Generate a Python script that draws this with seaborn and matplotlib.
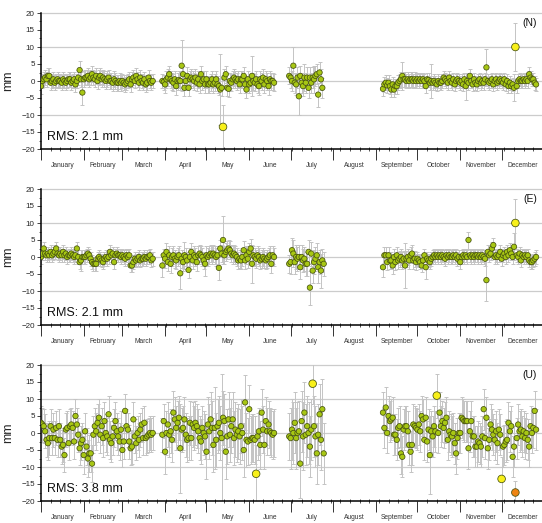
import numpy as np
import pandas as pd
import matplotlib
matplotlib.use("Agg")
import matplotlib.pyplot as plt
import seaborn as sns
from matplotlib.transforms import blended_transform_factory
from matplotlib.ticker import MultipleLocator, FixedLocator, NullFormatter

sns.set_style("white")
plt.rcParams['font.family'] = ['Liberation Sans', 'DejaVu Sans']

MONTHS = ["January", "February", "March", "April", "May", "June", "July",
          "August", "September", "October", "November", "December"]
MONTH_START = [0, 31, 59, 90, 120, 151, 181, 212, 243, 273, 304, 334, 365]
SEGMENT_START = [0, 88, 180, 248]
PANEL_LABELS = ["(N)", "(E)", "(U)"]
RMS_TEXT = ["RMS: 2.1 mm", "RMS: 2.1 mm", "RMS: 3.8 mm"]

# ---------------- North ----------------
N_JAN = [-1.5, 0, 0.5, 1, 0.5, 1.5, 1.5, -0.5, 0, 0.5, -0.5, 0, 0.5, 0, 0, -0.5, 0.5, 0, -0.5, 0, 0.5, 0.5, -0.5, 0, 0.5, -1, 0, 1, 3.2, 0.5, -3.4]
N_FEB = [0.5, 1, 1, 1.5, 0.5, 1, 2, 1, 0.5, 1.5, 0, 1, 1.5, 0.5, 1, 0.5, 0, 0.5, 1, 0, 0, -0.5, 0.5, 0, -0.5, -0.5, 0, -0.5]
N_MAR = [0, -0.5, -1, -0.5, 0, 0.5, -1, 0.5, 1, 0, 1.5, 0.5, -0.5, 1, 0, -0.5, 0.5, -1, -0.5, 1, 0, -0.5, 0]
N_APR = [0, -0.3, -1, 0.5, 1, 2, 0.5, 0, -0.5, 0.5, -1.5, 0, 0.3, 0, 4.5, 2, -2, 0, 1.5, -2, 0.5, 1, 0.5, 0, 1, -0.5, 0.5, -1, 2, 0, 0.5, -1]
N_MAY = [0.5, -1, -1, -0.5, 0.5, -1, -0.5, 0.5, -1, -1.5, -2.5, -2, -13.5, 1, 2, -2, -2.3, 0, -0.5, 0.5, 1, 0.5, 0, 0.5, -1, 0.5, 0.5, 1.5, -1, -2.5, 0.5]
N_JUN = [-1, -0.5, 1.5, 0, -0.5, 0.5, -1, -1.5, 0.5, 0, 1, -1, 0.5, 0, -1.5, 0.5, 0, 0, -0.5]
N_JUL = [1.5, 1, 0, 4.5, -0.5, -1, 1, -4.5, 1.5, -0.5, -1.5, 1, -0.5, 1, -2, 1, -0.5, 1, 0.5, 1.5, 2, -4, 2.5, 0.5, -2]
N_SEP = [-2.3, -1, -0.5, -1.3, -0.5, -1.5, -2.5, -1, -2.5, -1.5, -1.5, -0.5, 0, 0.5, 1.5, 0.5, 0.5, 0, 0.5, 0, 0.5, 0.5, 0, 0.5, 0]
N_OCT = [0.5, 0, 0.5, 0, 0.5, 0, -1.5, 0.5, 0.3, -0.5, 0, -0.5, 0, -0.5, -1, 0, -0.5, -0.5, 0, 1, 0.5, 0, -0.5, 1, 0, -0.5, 0.5, -1, 0, 0.5, 0]
N_NOV = [-0.5, 0, -1, 0.5, -1.5, 0, -0.5, 1.5, 0, -1, 0.5, -0.5, -1, 0, 0.5, -0.5, 0, -0.5, 0.5, 4, 0, -0.5, 0, 0.5, -1, 0, 0.5, -0.5, 0, 0.5]
N_DEC = [0, -0.5, 0.5, -1, 0, -1.5, -0.5, -1.5, -1, -2, 10, -1.5, 0, 0.5, 0, 0, 0.5, 0, 0.5, 0, 2, 1, 0.5, 0.5, -0.5, -1]
N_ERR_MONTH = [2.2, 2.3, 2.2, 2.5, 2.5, 2.5, 3.0, 0, 2.2, 2.0, 2.0, 2.0]
N_ERR_EXTRA = {28: 2.8, 30: 3.8, 102: 7.5, 130: 10.5, 132: 6.5, 153: 6, 183: 5.5,
               187: 5.5, 191: 4, 198: 4, 201: 3.5, 262: 4, 283: 5, 308: 4,
               323: 5.5, 343: 4, 344: 7}

# ---------------- East ----------------
E_JAN = [0, 1, 2.5, 1, 0.5, 1, 0.5, 1.5, 0.5, 1, 1.5, 2.5, 1, 0.5, 1, 0.5, 1.5, 0.5, 1, 0, 0.5, 0.5, 1, 0.5, 0, 0.5, 2.5, 0, -1.5, -1, 0]
E_FEB = [0, 0, 0.5, 1, 0.5, -0.5, -1.5, -2, -2, -2, -0.5, 0, -0.5, -1, -1.5, -0.5, 0, -0.5, 0, 1.5, 0.5, 1, -1.5, 0.5, 1, 0.5, 0.5, 0]
E_MAR = [0.5, 0, -0.5, 0.5, 0, 0.5, -2.5, -2.5, -1.5, -0.5, -1, -0.5, 0, -1, -0.5, -0.5, 0, -0.5, 0, 0, 0.5, -1, -0.5]
E_APR = [-2.5, 0.5, -0.5, 1.5, -1.5, 0.5, -2, 0, 0.5, -0.5, -1, 0, 0.5, -4.8, -0.5, -1.5, 0.5, 0, -1, -3.8, 0, 1.5, -1, 0.5, 0, -1.5, 0.5, 1, 0.5, 0, -1, -2]
E_MAY = [0.5, 0, 0.5, 1, 0.5, 1, 0.5, 0, 0.5, -3.2, 2.5, 1, 5, 0.5, 1.5, 2, 2.5, 2, 1, 0.5, 1, 0.5, 0, -1, -0.5, -1, 0, 2, -1, 0.5, -0.5]
E_JUN = [1.5, 2.5, -2, 0.5, 0, -0.5, 0.5, 0, -1, -0.5, 0, -0.5, -1, -0.5, 0, 0.5, -2, 0.5, 0]
E_JUL = [-2, -1.5, 2, 1, -1.5, 0, -0.5, 0, -3, 0, -1, -0.5, -2, -2, 1.5, -9, 1, -4, -1.5, -0.5, 0.5, -3, -1.5, -4, -1, -2]
E_SEP = [-3, 0.5, 0.5, -1.5, 0.5, -1, -1, -2.5, 0, -1.5, 0.5, -1, -0.5, 0, -1, -0.5, -2.5, -0.5, 0, -1, 0.5, 1, -1, -0.5, -1.5]
E_OCT = [-0.5, -1, -1.5, -2.5, -1, 0.5, -3, -0.5, -1, -1.5, -0.5, 0, 0.5, 0, 0.5, 0, 0.5, 0, 0.5, 0, -0.5, 0.5, 0, 0.5, 0, 0, 0.5, 0, 0.5, -0.5, 0]
E_NOV = [-1.5, 0, 0.5, 0, 0.5, 0, 5, 0.5, 0, 0.5, 0, 0.5, 0.5, 0, 0.5, 0, 0.5, 0, -0.5, -6.8, 1.5, 0.5, 1, 2.5, 3.5, 0, 0.5, 0, 0.5, 1.5]
E_DEC = [-0.5, 0.5, 1, 0, 1.5, 0.5, 2, 1, 0, 3, 10, 0.5, 0, 1, -1, 0.5, 0, 0.5, 0, 0.5, -1, -1.5, -1.5, -1, -0.5, 0]
E_ERR_MONTH = [2.0, 2.0, 2.0, 2.6, 2.6, 2.6, 3.5, 0, 2.4, 2.0, 2.0, 2.0]
E_ERR_EXTRA = {29: 3, 88: 3.5, 101: 4.5, 104: 4, 107: 2.5, 119: 3.5, 129: 3.5,
               132: 7, 152: 2.8, 153: 5.5, 183: 4, 188: 3.5, 195: 5, 197: 3.5,
               201: 4.5, 203: 5, 248: 3, 264: 6.5, 279: 3.5, 310: 2.5,
               323: 6, 343: 4, 344: 7}

# ---------------- Up ----------------
U_JAN = [3, 2.5, 2, 0.5, -2, -3, -1.5, 2, -1.5, 1, -1.5, 1.5, -2, 2, -2, -4, -3.5, -6.5, 1, 1.5, -3, 2, 2.5, 1.5, -2.5, 5, 2.5, -0.5, -4.5, -3, -2]
U_FEB = [-6.5, 0.5, -4, -7.5, -6, -6, -9, -0.5, 2, 0.5, 3, 4.5, -0.5, 2, -1.5, 3.5, 0, -1, 5.5, -2, -3, -1, 1.5, 3.5, 0.5, -1, -2.5, 1]
U_MAR = [-5, -2.5, 6.5, 2, 1, -2.5, -4.5, -4, 4, -1, -3, 0, -2, 1, 2.5, -1.5, 3, -1.5, -1, -0.5, 0, -0.5, 0]
U_APR = [-0.5, 3.5, -5.5, 0, 2.5, -0.5, 0.5, -2, 6, 4, 1.5, 3, 4.5, -4.5, 1, 1.5, 4, -0.5, -2, -1.5, 3, -1.5, 2.5, 1.5, 3, 2, 0.5, -1.5, -2.5, 1.5, 0, -1]
U_MAY = [-5.5, 2.5, 0.5, 4, 1.5, -3.5, 1.5, -2, 2, 3, 0, -1.5, 4.5, 3.5, -5.5, -1, 4, -0.5, 2, 4, -1.5, 1, -0.5, 0.5, -1, 2, 0, -5, 9, -2, -2.5]
U_JUN = [7, -2, -1.5, -1.5, -2, -12, -1, 0.5, -3.5, 6, 1, -3.5, 3.5, 0.5, 2.5, 0.5, 0, -0.5, 0]
U_JUL = [-1, -1.5, 1, 0, 3, -1.5, 0, 0.5, -9, 3.5, -1, 6, -0.5, 2, 0, -4, 1, 14.5, 2, -1, -6, -0.5, 5.5, -2, 7, -6]
U_SEP = [6, 1.5, 7.5, 0, 5, 3.5, 4, 4.5, -0.5, -0.5, -2, 1.5, 2, -6, -7, 1, 2, 2, 0.5, -3.5, -5.5, -3.5, 2.5, 2, 1.5]
U_OCT = [1, 2.5, 0.5, 5, 4, -2, 4.5, -2.5, 1, -6.5, 0.5, -1, 2, 0.5, 11, 0, 6, 2, 3.5, 1.5, 3, 4.5, -2, 0.5, -0.5, -1, 0, -3, -6, -1.5, 0]
U_NOV = [0, 4.5, 4, 3.5, 3.5, 3.5, -4.5, 0.5, 3.5, -1, -1, -4, -4, -2.5, -3, -4, -1, 7, -1.5, 4.5, -4.5, -2, 2.5, 1, -0.5, -2, 0.5, -3, 1, -0.5]
U_DEC = [-13.5, -4, -3.5, -2.5, -2, 3, 0.5, 2, -7, -4, -17.5, -1.5, 2.5, 0.5, 1, -1, 0.5, -1.5, 0, -2, -4, 2, 0, 1.5, 6.5, 1]
U_ERR_MONTH = [5, 5.5, 5, 6.5, 8, 7, 9, 0, 6, 6, 6, 6]
U_ERR_EXTRA = {101: 13, 126: 12, 131: 19, 150: 7, 156: 8.5, 188: 10, 190: 10,
               197: 6, 282: 11.5, 287: 6.5, 334: 6.5, 344: 3.5}

PANELS = [
    ([N_JAN + N_FEB + N_MAR, N_APR + N_MAY + N_JUN, N_JUL, N_SEP + N_OCT + N_NOV + N_DEC], N_ERR_MONTH, N_ERR_EXTRA),
    ([E_JAN + E_FEB + E_MAR, E_APR + E_MAY + E_JUN, E_JUL, E_SEP + E_OCT + E_NOV + E_DEC], E_ERR_MONTH, E_ERR_EXTRA),
    ([U_JAN + U_FEB + U_MAR, U_APR + U_MAY + U_JUN, U_JUL, U_SEP + U_OCT + U_NOV + U_DEC], U_ERR_MONTH, U_ERR_EXTRA),
]

GREEN = "#a8c714"
YELLOW = "#f8f01a"
ORANGE = "#ef8412"
EDGE = "#46520f"
BAR = "#c4c4c4"


def build_frame(segments, err_month, err_extra):
    rows = []
    for start, vals in zip(SEGMENT_START, segments):
        for i, v in enumerate(vals):
            d = start + i
            m = np.searchsorted(MONTH_START, d, side="right") - 1
            e = err_extra.get(d, err_month[m])
            cls = "orange" if abs(v) >= 15 else ("yellow" if abs(v) >= 10 else "green")
            rows.append((d, v, e, cls))
    return pd.DataFrame(rows, columns=["day", "val", "err", "cls"])


fig = plt.figure(figsize=(5.42, 5.23), dpi=100)
H = 523.0
W = 542.0
panel_px = [(13, 149), (189, 325), (365, 501)]
left = 41 / W

for k, ((segments, err_month, err_extra), (top, bot)) in enumerate(zip(PANELS, panel_px)):
    ax = fig.add_axes([left, 1 - bot / H, 1 - left, (bot - top) / H])
    df = build_frame(segments, err_month, err_extra)
    ax.errorbar(df["day"], df["val"], yerr=df["err"], fmt="none", ecolor=BAR,
                elinewidth=0.7, capsize=1.7, capthick=0.7, zorder=2)
    sns.scatterplot(data=df, x="day", y="val", hue="cls", size="cls",
                    palette={"green": GREEN, "yellow": YELLOW, "orange": ORANGE},
                    sizes={"green": 15, "yellow": 30, "orange": 30},
                    edgecolor=EDGE, linewidth=0.55, legend=False, ax=ax, zorder=3)
    ax.set_xlim(0, 363.3)
    ax.set_ylim(-20, 20)
    ax.set_xlabel("")
    ax.set_ylabel("mm", fontsize=9)
    ax.yaxis.set_label_coords(-0.054, 0.5)

    for sp in ["top", "right"]:
        ax.spines[sp].set_visible(False)
    for sp in ["left", "bottom"]:
        ax.spines[sp].set_color("black")
        ax.spines[sp].set_linewidth(1.1)

    ax.yaxis.set_major_locator(MultipleLocator(5))
    ax.yaxis.set_minor_locator(MultipleLocator(2.5))
    ax.tick_params(axis="y", which="major", labelsize=5.8, length=3, width=0.6,
                   direction="out", pad=1.5, left=True)
    ax.tick_params(axis="y", which="minor", length=1.5, width=0.5, direction="out", left=True)

    ax.xaxis.set_major_locator(FixedLocator(MONTH_START[:-1]))
    ax.xaxis.set_minor_locator(MultipleLocator(7))
    ax.xaxis.set_major_formatter(NullFormatter())
    ax.tick_params(axis="x", which="major", length=8, width=0.7, direction="out",
                   bottom=True, color="#333333")
    ax.tick_params(axis="x", which="minor", length=3.5, width=0.6, direction="inout",
                   bottom=True, color="#333333")

    for yv in [-10, 0, 10, 20]:
        ax.axhline(yv, color="#cccccc", lw=0.9, zorder=1, clip_on=False)

    trans = blended_transform_factory(ax.transData, ax.transAxes)
    for i, name in enumerate(MONTHS):
        mid = (MONTH_START[i] + MONTH_START[i + 1]) / 2
        ax.text(mid, -0.123, name, transform=trans, ha="center", va="center",
                fontsize=4.8, color="#333333")

    ax.text(0.012, 0.045, RMS_TEXT[k], transform=ax.transAxes, fontsize=9,
            ha="left", va="bottom", color="#111111")
    ax.text(0.99, 0.965, PANEL_LABELS[k], transform=ax.transAxes, fontsize=7.5,
            ha="right", va="top", color="#111111")

fig.savefig("out.png", dpi=100)
